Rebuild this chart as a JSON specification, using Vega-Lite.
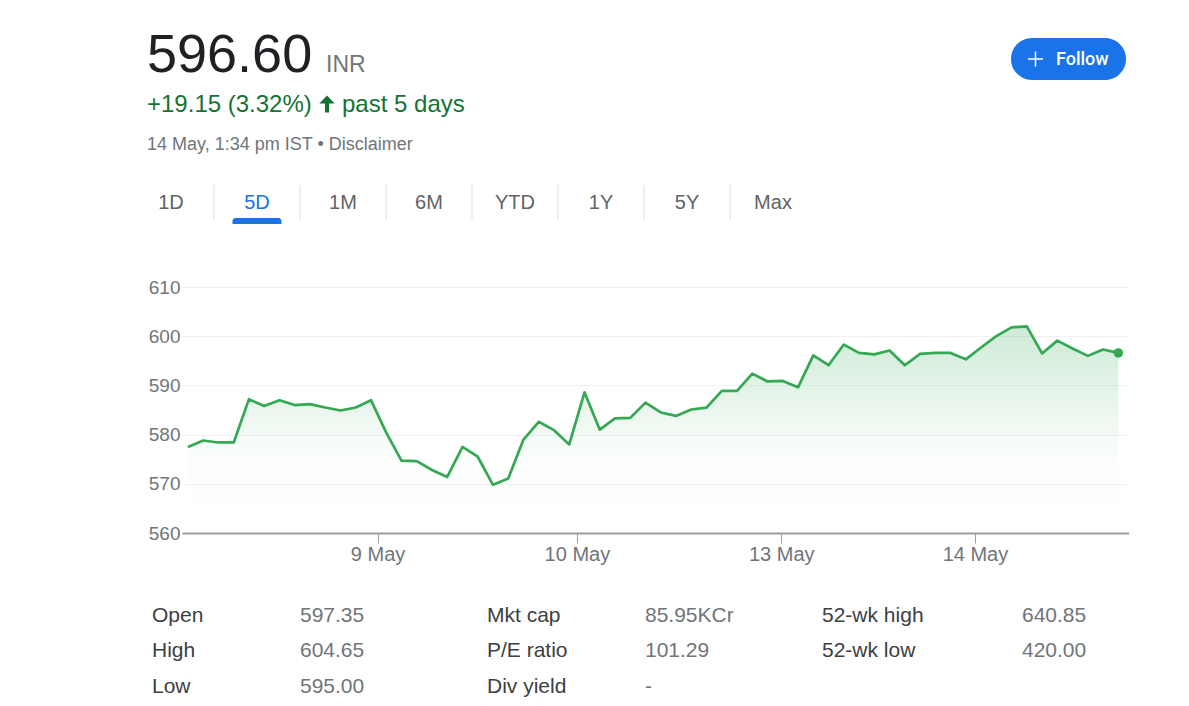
{
  "$schema": "https://vega.github.io/schema/vega-lite/v6.json",
  "background": "white",
  "padding": {"left": 147, "top": 0, "right": 0, "bottom": 0},
  "autosize": {"type": "pad"},
  "spacing": 0,
  "bounds": "flush",
  "config": {
    "view": {"stroke": null},
    "font": "Liberation Sans"
  },
  "vconcat": [
    {
      "width": 947,
      "height": 287,
      "view": {"fill": "white"},
      "layer": [
        {
          "data": {"values": [{"label": "596.60"}]},
          "mark": {"type": "text", "x": -35, "y": 72, "align": "left", "baseline": "alphabetic", "fontSize": 54, "color": "#202124", "font": "Liberation Sans"},
          "encoding": {"text": {"field": "label"}}
        },
        {
          "data": {"values": [{"label": "INR"}]},
          "mark": {"type": "text", "x": 144, "y": 72, "align": "left", "baseline": "alphabetic", "fontSize": 23, "color": "#70757a", "font": "Liberation Sans"},
          "encoding": {"text": {"field": "label"}}
        },
        {
          "data": {"values": [{"label": "+19.15 (3.32%)"}]},
          "mark": {"type": "text", "x": -35, "y": 112, "align": "left", "baseline": "alphabetic", "fontSize": 24, "color": "#137333", "font": "Liberation Sans"},
          "encoding": {"text": {"field": "label"}}
        },
        {
          "data": {"values": [{"label": "up"}]},
          "mark": {"type": "point", "x": 145, "y": 104, "filled": true, "opacity": 1, "size": 289, "strokeWidth": 0, "color": "#137333", "shape": "M0,-1L0.9,-0.05L0.24,-0.05L0.24,1L-0.24,1L-0.24,-0.05L-0.9,-0.05Z"},
          "encoding": {}
        },
        {
          "data": {"values": [{"label": "past 5 days"}]},
          "mark": {"type": "text", "x": 160, "y": 112, "align": "left", "baseline": "alphabetic", "fontSize": 24, "color": "#137333", "font": "Liberation Sans"},
          "encoding": {"text": {"field": "label"}}
        },
        {
          "data": {"values": [{"label": "14 May, 1:34 pm IST • Disclaimer"}]},
          "mark": {"type": "text", "x": -35, "y": 150, "align": "left", "baseline": "alphabetic", "fontSize": 18, "color": "#70757a", "font": "Liberation Sans"},
          "encoding": {"text": {"field": "label"}}
        },
        {
          "data": {"values": [{"tab": "1D"}, {"tab": "5D"}, {"tab": "1M"}, {"tab": "6M"}, {"tab": "YTD"}, {"tab": "1Y"}, {"tab": "5Y"}, {"tab": "Max"}]},
          "layer": [
            {
              "mark": {"type": "text", "y": 209, "baseline": "alphabetic", "align": "center", "fontSize": 20, "font": "Liberation Sans"},
              "encoding": {
                "x": {"field": "tab", "type": "nominal", "sort": null, "scale": {"type": "band", "range": [-54, 634], "paddingInner": 0, "paddingOuter": 0}, "axis": null},
                "text": {"field": "tab"},
                "color": {"condition": {"test": "datum.tab === '5D'", "value": "#1a73e8"}, "value": "#5f6368"}
              }
            },
            {
              "transform": [{"filter": "datum.tab !== '1D'"}],
              "mark": {"type": "rule", "y": 185, "y2": 219, "color": "#dadce0", "strokeWidth": 1},
              "encoding": {
                "x": {"field": "tab", "type": "nominal", "sort": null, "bandPosition": 0}
              }
            },
            {
              "transform": [{"filter": "datum.tab === '5D'"}],
              "mark": {"type": "rect", "y": 218, "y2": 224, "color": "#1a73e8", "cornerRadiusTopLeft": 3, "cornerRadiusTopRight": 3},
              "encoding": {
                "x": {"field": "tab", "type": "nominal", "sort": null, "bandPosition": 0.215},
                "x2": {"field": "tab", "bandPosition": 0.785}
              }
            }
          ]
        },
        {
          "data": {"values": [{"label": "Follow"}]},
          "layer": [
            {
              "mark": {"type": "rect", "x": 829, "x2": 944, "y": 38, "y2": 80, "cornerRadius": 21, "color": "#1a73e8"},
              "encoding": {}
            },
            {
              "mark": {"type": "point", "x": 853.5, "y": 59, "filled": true, "opacity": 1, "size": 225, "strokeWidth": 0, "color": "white", "shape": "M-1,-0.1L1,-0.1L1,0.1L-1,0.1Z M-0.1,-1L0.1,-1L0.1,1L-0.1,1Z"},
              "encoding": {}
            },
            {
              "mark": {"type": "text", "x": 874, "y": 65, "align": "left", "baseline": "alphabetic", "fontSize": 18, "fontWeight": 500, "color": "white", "font": "Roboto"},
              "encoding": {"text": {"field": "label"}}
            }
          ]
        }
      ]
    },
    {
      "width": 947,
      "height": 246,
      "data": {
        "values": [
          {"i": 0, "price": 577.5}, {"i": 1, "price": 578.8}, {"i": 2, "price": 578.4}, {"i": 3, "price": 578.4},
          {"i": 4, "price": 587.2}, {"i": 5, "price": 585.8}, {"i": 6, "price": 587.0}, {"i": 7, "price": 586.0},
          {"i": 8, "price": 586.2}, {"i": 9, "price": 585.5}, {"i": 10, "price": 584.9}, {"i": 11, "price": 585.5},
          {"i": 12, "price": 587.0}, {"i": 13, "price": 580.4}, {"i": 14, "price": 574.7}, {"i": 15, "price": 574.6},
          {"i": 16, "price": 572.8}, {"i": 17, "price": 571.4}, {"i": 18, "price": 577.5}, {"i": 19, "price": 575.5},
          {"i": 20, "price": 569.8}, {"i": 21, "price": 571.1}, {"i": 22, "price": 579.0}, {"i": 23, "price": 582.6},
          {"i": 24, "price": 580.9}, {"i": 25, "price": 578.0}, {"i": 26, "price": 588.6}, {"i": 27, "price": 581.0},
          {"i": 28, "price": 583.3}, {"i": 29, "price": 583.4}, {"i": 30, "price": 586.5}, {"i": 31, "price": 584.5},
          {"i": 32, "price": 583.8}, {"i": 33, "price": 585.1}, {"i": 34, "price": 585.5}, {"i": 35, "price": 588.9},
          {"i": 36, "price": 588.9}, {"i": 37, "price": 592.4}, {"i": 38, "price": 590.8}, {"i": 39, "price": 590.9},
          {"i": 40, "price": 589.6}, {"i": 41, "price": 596.1}, {"i": 42, "price": 594.1}, {"i": 43, "price": 598.3},
          {"i": 44, "price": 596.6}, {"i": 45, "price": 596.3}, {"i": 46, "price": 597.1}, {"i": 47, "price": 594.1},
          {"i": 48, "price": 596.4}, {"i": 49, "price": 596.6}, {"i": 50, "price": 596.6}, {"i": 51, "price": 595.3},
          {"i": 52, "price": 597.7}, {"i": 53, "price": 600.0}, {"i": 54, "price": 601.8}, {"i": 55, "price": 602.0},
          {"i": 56, "price": 596.5}, {"i": 57, "price": 599.1}, {"i": 58, "price": 597.5}, {"i": 59, "price": 596.0},
          {"i": 60, "price": 597.3}, {"i": 61, "price": 596.6}
        ]
      },
      "encoding": {
        "x": {
          "field": "i", "type": "quantitative",
          "scale": {"domain": [-0.39, 61.7], "nice": false, "zero": false},
          "axis": {
            "values": [12.43, 25.5, 38.9, 51.6],
            "labelExpr": "datum.value < 20 ? '9 May' : datum.value < 30 ? '10 May' : datum.value < 45 ? '13 May' : '14 May'",
            "grid": false, "title": null,
            "domainColor": "#9aa0a6", "domainWidth": 2,
            "tickColor": "#9aa0a6", "tickSize": 10, "tickWidth": 1,
            "labelPadding": 1, "labelFontSize": 20, "labelColor": "#70757a", "labelFont": "Liberation Sans",
            "labelFlush": false, "labelOverlap": false
          }
        },
        "y": {
          "field": "price", "type": "quantitative",
          "scale": {"domain": [560, 610], "nice": false, "zero": false},
          "axis": {
            "values": [560, 570, 580, 590, 600, 610],
            "title": null, "domain": false, "ticks": false,
            "labelPadding": 2, "labelFontSize": 19, "labelColor": "#70757a", "labelFont": "Liberation Sans",
            "grid": true, "gridColor": "#f0f0f0", "gridWidth": 1
          }
        }
      },
      "layer": [
        {
          "mark": {
            "type": "area",
            "line": false,
            "color": {
              "gradient": "linear", "x1": 1, "y1": 1, "x2": 1, "y2": 0,
              "stops": [
                {"offset": 0, "color": "rgba(52,168,83,0)"},
                {"offset": 0.37, "color": "rgba(52,168,83,0.02)"},
                {"offset": 1, "color": "rgba(52,168,83,0.24)"}
              ]
            }
          },
          "encoding": {"y2": {"datum": 560}}
        },
        {
          "mark": {"type": "line", "color": "#34a853", "strokeWidth": 2.7, "strokeJoin": "round"}
        },
        {
          "transform": [{"filter": "datum.i === 61"}],
          "mark": {"type": "point", "filled": true, "opacity": 1, "size": 90, "color": "#34a853"}
        }
      ]
    },
    {
      "width": 947,
      "height": 173,
      "data": {
        "values": [
          {"row": 0, "col": 0, "text": "Open", "kind": "label"},
          {"row": 0, "col": 1, "text": "597.35", "kind": "value"},
          {"row": 0, "col": 2, "text": "Mkt cap", "kind": "label"},
          {"row": 0, "col": 3, "text": "85.95KCr", "kind": "value"},
          {"row": 0, "col": 4, "text": "52-wk high", "kind": "label"},
          {"row": 0, "col": 5, "text": "640.85", "kind": "value"},
          {"row": 1, "col": 0, "text": "High", "kind": "label"},
          {"row": 1, "col": 1, "text": "604.65", "kind": "value"},
          {"row": 1, "col": 2, "text": "P/E ratio", "kind": "label"},
          {"row": 1, "col": 3, "text": "101.29", "kind": "value"},
          {"row": 1, "col": 4, "text": "52-wk low", "kind": "label"},
          {"row": 1, "col": 5, "text": "420.00", "kind": "value"},
          {"row": 2, "col": 0, "text": "Low", "kind": "label"},
          {"row": 2, "col": 1, "text": "595.00", "kind": "value"},
          {"row": 2, "col": 2, "text": "Div yield", "kind": "label"},
          {"row": 2, "col": 3, "text": "-", "kind": "value"}
        ]
      },
      "mark": {"type": "text", "align": "left", "baseline": "alphabetic", "fontSize": 21, "font": "Liberation Sans"},
      "encoding": {
        "x": {"field": "col", "type": "quantitative", "scale": {"domain": [0, 1, 2, 3, 4, 5], "range": [-30, 118, 305, 463, 640, 840]}, "axis": null},
        "y": {"field": "row", "type": "quantitative", "scale": {"domain": [0, 2], "range": [88.5, 159.5]}, "axis": null},
        "text": {"field": "text"},
        "color": {"field": "kind", "type": "nominal", "scale": {"domain": ["label", "value"], "range": ["#3c4043", "#70757a"]}, "legend": null}
      }
    }
  ]
}
